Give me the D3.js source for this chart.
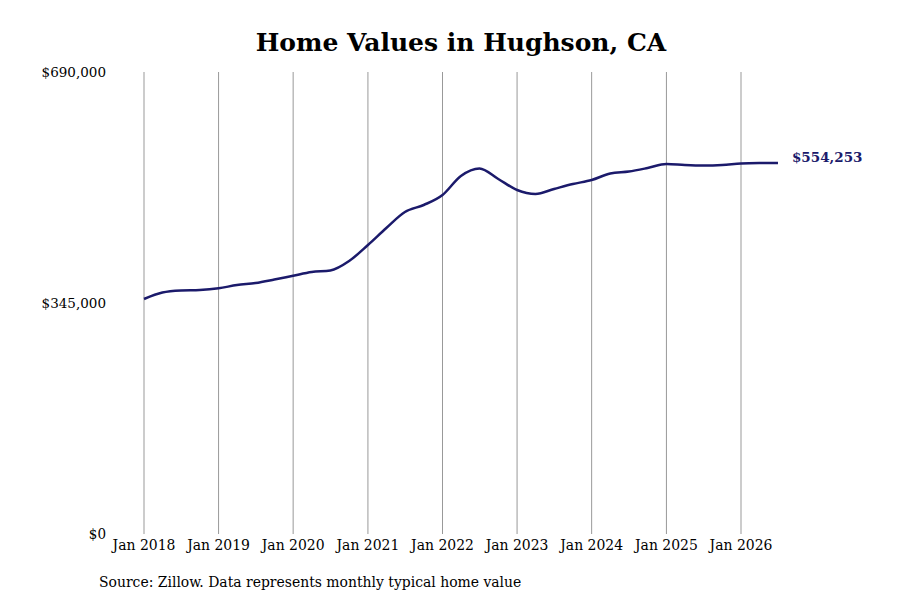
<!DOCTYPE html>
<html>
<head>
<meta charset="utf-8">
<script src="https://cdn.jsdelivr.net/npm/d3@7"></script>
<style>
  body { margin: 0; background: #fff; }
  .cond { font-family: "DejaVu Serif Condensed", "DejaVu Serif", serif; font-stretch: condensed; }
</style>
</head>
<body>
<div id="chart"></div>
<script>
// data (quarterly, typical home value)
const dates = [
  "2018-01", "2018-04", "2018-07", "2018-10",
  "2019-01", "2019-04", "2019-07", "2019-10",
  "2020-01", "2020-04", "2020-07", "2020-10",
  "2021-01", "2021-04", "2021-07", "2021-10",
  "2022-01", "2022-04", "2022-07", "2022-10",
  "2023-01", "2023-04", "2023-07", "2023-10",
  "2024-01", "2024-04", "2024-07", "2024-10",
  "2025-01", "2025-04", "2025-07", "2025-10",
  "2026-01", "2026-04", "2026-07"
];
const values = [
  350970, 360680, 363670, 364410,
  366950, 371880, 374870, 380100,
  385770, 391300, 393530, 407720,
  431620, 457010, 480910, 491360,
  506290, 534670, 545870, 530190,
  513760, 507790, 515260, 522730,
  528700, 538400, 541390, 546620,
  552600, 551100, 550350, 551100,
  553340, 554090, 554253
];
const yTicks = [0, 345000, 690000];
const xTickYears = [2018, 2019, 2020, 2021, 2022, 2023, 2024, 2025, 2026];

const width = 900, height = 600;
const margin = { top: 72, right: 122, bottom: 66, left: 144 };

const parse = d3.timeParse("%Y-%m");
const data = dates.map((d, i) => ({ date: parse(d), value: values[i] }));

const svg = d3.select("#chart")
  .append("svg")
  .attr("width", width)
  .attr("height", height);

// x: Jan 2018 .. Jan 2026 bepalen de gridlijnen
const x = d3.scaleTime()
  .domain([new Date(2018, 0, 1), new Date(2026, 0, 1)])
  .range([144, 741]);

const y = d3.scaleLinear()
  .domain([0, 690000])
  .range([height - margin.bottom, margin.top]);

// titel
svg.append("text")
  .attr("x", 461)
  .attr("y", 51)
  .attr("text-anchor", "middle")
  .style("font-family", "DejaVu Serif, serif")
  .style("font-weight", "bold")
  .style("font-size", "25px")
  .text("Home Values in Hughson, CA");

// verticale gridlijnen
svg.append("g")
  .selectAll("line")
  .data(xTickYears)
  .enter()
  .append("line")
  .attr("x1", d => x(new Date(d, 0, 1)))
  .attr("x2", d => x(new Date(d, 0, 1)))
  .attr("y1", y(690000))
  .attr("y2", y(0))
  .attr("stroke", "#999")
  .attr("stroke-width", 1);

// x labels
svg.append("g")
  .selectAll("text")
  .data(xTickYears)
  .enter()
  .append("text")
  .attr("class", "cond")
  .attr("x", d => x(new Date(d, 0, 1)))
  .attr("y", y(0) + 16)
  .attr("text-anchor", "middle")
  .style("font-size", "15.5px")
  .text(d => "Jan " + d);

// y labels
const fmt = d3.format("$,");
svg.append("g")
  .selectAll("text")
  .data(yTicks)
  .enter()
  .append("text")
  .attr("class", d => d === 0 ? "cond" : null)
  .attr("x", 106)
  .attr("y", d => y(d))
  .attr("dy", "0.35em")
  .attr("text-anchor", "end")
  .style("font-family", "DejaVu Serif, serif")
  .style("font-size", d => d === 0 ? "15px" : "13.5px")
  .text(d => fmt(d));

// de lijn
const line = d3.line()
  .x(d => x(d.date))
  .y(d => y(d.value))
  .curve(d3.curveMonotoneX);

svg.append("path")
  .datum(data)
  .attr("d", line)
  .attr("fill", "none")
  .attr("stroke", "#1b1a6b")
  .attr("stroke-width", 2.5);

// laatste waarde
const last = data[data.length - 1];
svg.append("text")
  .attr("x", x(last.date) + 14)
  .attr("y", y(last.value) - 6)
  .attr("dy", "0.35em")
  .style("font-family", "DejaVu Serif, serif")
  .style("font-weight", "bold")
  .style("font-size", "13.5px")
  .attr("fill", "#1b1a6b")
  .text(fmt(last.value));

// bron
svg.append("text")
  .attr("class", "cond")
  .attr("x", 99)
  .attr("y", 587)
  .style("font-size", "15.5px")
  .text("Source: Zillow. Data represents monthly typical home value");
</script>
</body>
</html>
